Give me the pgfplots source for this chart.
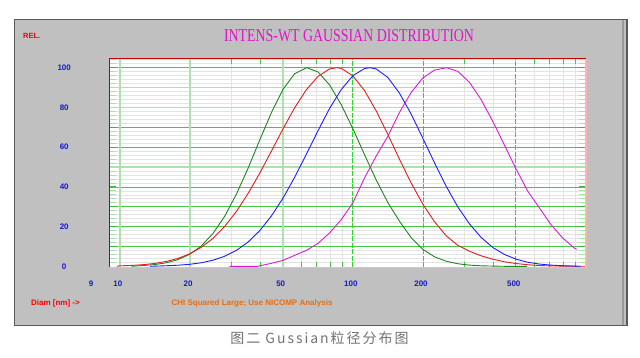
\documentclass[border=0pt]{standalone}
\usepackage{graphicx}
\usepackage{pgfplots}
\pgfplotsset{compat=1.18}
\usepackage{fontspec}
\setmainfont{Liberation Sans}
\newfontfamily\titlefont{Liberation Serif}
\newfontfamily\cjk[LetterSpace=14]{Noto Sans CJK SC}
\definecolor{framec}{RGB}{192,192,192}
\definecolor{gline}{RGB}{70,200,70}
\definecolor{dashg}{RGB}{40,215,40}
\definecolor{dgline}{RGB}{60,180,60}
\definecolor{lgline}{RGB}{175,225,175}
\definecolor{mgray}{RGB}{228,228,228}
\definecolor{cgreen}{RGB}{30,135,30}
\definecolor{cred}{RGB}{225,30,30}
\definecolor{cblue}{RGB}{30,30,255}
\definecolor{cmag}{RGB}{215,30,215}
\definecolor{ticklab}{RGB}{25,25,200}
\definecolor{titlec}{RGB}{225,20,200}
\definecolor{orangec}{RGB}{230,110,20}
\definecolor{pinkc}{RGB}{250,180,180}
\begin{document}
\begin{tikzpicture}[x=1pt,y=1pt]
\useasboundingbox (0,0) rectangle (640,357);
\fill[white] (0,0) rectangle (640,357);
\fill[framec] (14.4,31.4) rectangle (627,337.7);
\draw[black!65, line width=1.2pt] (14.4,31.4) rectangle (627,337.7);
\draw[black!40, line width=1.5pt] (623,32) -- (623,337);
\begin{axis}[at={(109.2pt,89.7pt)}, anchor=south west, scale only axis,
  width=476.7pt, height=208.5pt,
  xmode=log, xmin=9, xmax=1000, ymin=-0.5, ymax=104.5,
  axis background/.style={fill=white},
  axis line style={draw=none}, tick style={draw=none},
  xtick={10,20,50,100,200,500}, xticklabels={10,20,50,100,200,500},
  ytick={0,20,40,60,80,100}, yticklabels={0,20,40,60,80,100},
  ticklabel style={font=\bfseries\fontsize{8}{9}\selectfont, text=ticklab},
  xticklabel style={anchor=center, yshift=-16pt, xshift=-2pt},
  yticklabel style={anchor=center, xshift=-45pt},
  extra x ticks={9}, extra x tick labels={9},
  extra x tick style={xticklabel style={xshift=-16pt}},
  clip=false]
% minor horizontal grid
\pgfplotsinvokeforeach{2,4,6,8,12,14,16,18,22,24,26,28,32,34,36,38,42,44,46,48,52,54,56,58,62,64,66,68,72,74,76,78,82,84,86,88,92,94,96,98,102,104}{
  \draw[mgray, line width=0.6pt] (9,#1) -- (1000,#1);
  \draw[lgline, line width=0.8pt] (9,#1) -- ++(7pt,0pt);
  \draw[lgline, line width=0.8pt] (1000,#1) -- ++(-7pt,0pt);
}
% minor vertical grid
\pgfplotsinvokeforeach{30,40,60,70,80,90,300,400,600,700,800,900}{
  \draw[mgray, line width=0.8pt] (#1,-0.5) -- (#1,104.5);
  \draw[gline, line width=0.8pt] (#1,-0.5) -- ++(0pt,5pt);
  \draw[gline, line width=0.8pt] (#1,104.5) -- ++(0pt,-5pt);
}
% major horizontal grid
\pgfplotsinvokeforeach{10,20,30,40,60,70,100}{
  \draw[gline, line width=0.7pt] (9,#1) -- (1000,#1);
  \draw[dgline, line width=0.8pt] (9,#1) -- ++(7pt,0pt);
  \draw[dgline, line width=0.8pt] (1000,#1) -- ++(-7pt,0pt);
}
\pgfplotsinvokeforeach{50,80,90}{
  \draw[lgline, line width=1.6pt] (9,#1) -- (1000,#1);
}
% major vertical grid
\pgfplotsinvokeforeach{10,20,50}{
  \draw[lgline, line width=1.6pt] (#1,-0.5) -- (#1,104.5);
}
\pgfplotsinvokeforeach{100,200,500}{
  \draw[dashg, line width=0.8pt, dash pattern=on 5pt off 1.5pt] (#1,-0.5) -- (#1,104.5);
}
% curves
\addplot[cgreen, line width=0.9pt] coordinates {
(11.22,0) (12.59,0.42) (14.13,0.88) (15.85,1.78) (17.78,3.37) (19.95,6.06)
(22.39,10.3) (25.12,16.6) (28.18,25.2) (31.62,36.3) (35.48,49.3) (39.81,63.5)
(44.67,77.3) (50.12,89.1) (56.23,97.0) (63.4,100) (70.79,97.9) (79.43,91.4)
(89.13,81.4) (100,69.3) (112.2,56.2) (125.9,43.5) (141.3,32.1) (158.5,22.7)
(177.8,14.5) (199.5,8.6) (223.9,4.8) (251.2,2.6) (281.8,1.3) (316.2,0.6)
(354.8,0.25) (446.7,0) (560,0)};
\addplot[cred, line width=0.9pt] coordinates {
(9.7,0) (10,0.24) (11.22,0.45) (12.59,0.83) (14.13,1.45) (15.85,2.45)
(17.78,4.0) (19.95,6.3) (22.39,9.6) (25.12,14.1) (28.18,20.1) (31.62,27.6)
(35.48,36.6) (39.81,46.8) (44.67,57.9) (50.12,69.2) (56.23,79.8) (63.1,88.9)
(70.79,95.6) (79.43,99.4) (85.1,100) (89.13,99.7) (100,95.9) (112.2,88.5)
(125.9,78.3) (141.3,66.4) (158.5,53.9) (177.8,42.0) (199.5,31.4) (223.9,22.5)
(251.2,15.4) (281.8,10.6) (316.2,7.6) (354.8,5.3) (398.1,3.6) (446.7,2.3)
(501.2,1.4) (562.3,0.8) (631,0.4) (707.9,0.2) (794.3,0.1) (1000,0)};
\addplot[cblue, line width=0.9pt] coordinates {
(13.5,0) (15.85,0.29) (17.78,0.55) (19.95,1.01) (22.39,1.80) (25.12,3.08)
(28.18,5.06) (31.62,8.0) (35.48,12.2) (39.81,17.9) (44.67,25.3) (50.12,34.3)
(56.23,44.8) (63.1,56.4) (70.79,68.2) (79.43,79.5) (89.13,89.0) (100,96.0)
(112.2,99.6) (118.3,100) (125.9,99.4) (141.3,95.1) (158.5,87.2) (177.8,76.7)
(199.5,64.6) (223.9,52.2) (251.2,40.4) (281.8,30.0) (316.2,21.4) (354.8,14.6)
(398.1,9.5) (446.7,6.0) (501.2,3.6) (562.3,2.06) (631,1.14) (707.9,0.6)
(794.3,0.3) (891.3,0.1) (950,0)};
\addplot[cmag, line width=0.9pt] coordinates {
(29.5,0) (38.9,0) (44.67,1.5) (50.12,3.0) (56.23,5.5) (63.1,8.0) (70.79,11.5)
(79.43,16.8) (89.13,23.5) (100,32.0) (112.2,44.5) (125.9,55.5) (141.3,65.5)
(158.5,77.5) (177.8,87.5) (199.5,94.8) (223.9,98.8) (252.7,100) (281.8,98.2)
(316.2,92.7) (354.8,84.0) (398.1,73.1) (446.7,61.1) (501.2,49.1) (562.3,37.9)
(631,29.5) (707.9,21.0) (794.3,14.3) (891.3,9.2) (913,8.6)};
% borders
\draw[pinkc, line width=1.6pt] (9,-0.5) -- (1000,-0.5) -- (1000,104.5);
\draw[red!75!black, line width=0.9pt] (9,-0.5) -- (9,104.5) -- (1000,104.5);
\end{axis}
\node[text=red, font=\bfseries\fontsize{7.5}{8}\selectfont] at (31.7,321) {REL.};
\node[text=titlec, inner sep=0pt] at (349,321) {\resizebox{250pt}{12pt}{\titlefont INTENS-WT GAUSSIAN DISTRIBUTION}};
\node[text=red, font=\bfseries\fontsize{8}{9}\selectfont] at (55.5,54) {Diam [nm] ->};
\node[text=orangec, font=\bfseries\fontsize{8}{9}\selectfont] at (252,54) {CHI Squared Large; Use NICOMP Analysis};
\node[text=black!55, font=\cjk\fontsize{14}{15}\selectfont] at (319.5,19) {图二 Gussian粒径分布图};
\end{tikzpicture}
\end{document}
